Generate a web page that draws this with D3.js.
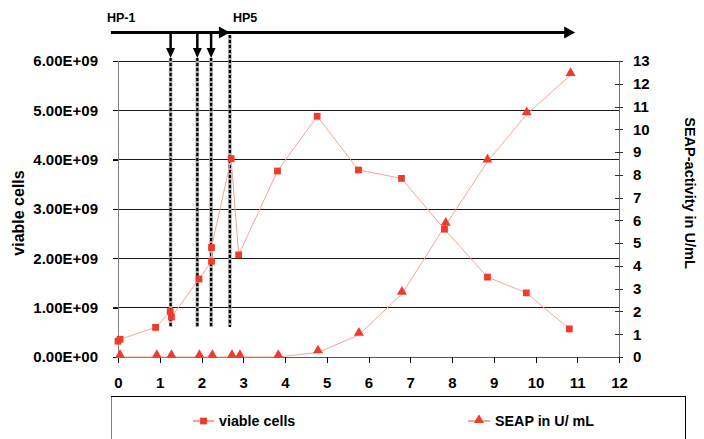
<!DOCTYPE html>
<html><head><meta charset="utf-8">
<script src="https://cdn.jsdelivr.net/npm/d3@7"></script>
<style>
body{margin:0;background:#fff;}
svg{display:block;}
</style></head>
<body><svg id="c" width="704" height="439"></svg>
<script>
// ---- data ----
const cellsX = [0, 0.05, 0.9, 1.25, 1.28, 1.94, 2.24, 2.24, 2.71, 2.89, 3.82, 4.77, 5.76, 6.79, 7.82, 8.85, 9.78, 10.81];
const cellsY = [0.32e9, 0.36e9, 0.60e9, 0.92e9, 0.81e9, 1.58e9, 1.94e9, 2.22e9, 4.02e9, 2.07e9, 3.77e9, 4.88e9, 3.79e9, 3.62e9, 2.59e9, 1.62e9, 1.30e9, 0.57e9];
const seapX = [0.05, 0.93, 1.28, 1.95, 2.26, 2.73, 2.92, 3.84, 4.79, 5.77, 6.80, 7.85, 8.85, 9.79, 10.84];
const seapY = [0, 0, 0, 0, 0, 0, 0, 0, 0.2, 0.97, 2.77, 5.80, 8.58, 10.66, 12.38];
const xTicks = [0,1,2,3,4,5,6,7,8,9,10,11,12];
const leftTicks = [0,1e9,2e9,3e9,4e9,5e9,6e9];
const leftTickLabels = ["0.00E+00","1.00E+09","2.00E+09","3.00E+09","4.00E+09","5.00E+09","6.00E+09"];
const rightTicks = [0,1,2,3,4,5,6,7,8,9,10,11,12,13];
const harvestX = [1.26, 1.90, 2.23];   // downward arrows
const hp5X = 2.68;                     // HP5 start
const timelineStart = -0.17, timelineEnd = 10.95;
const labels = {left:"viable cells", right:"SEAP-activity in U/mL", hp1:"HP-1", hp5:"HP5",
  leg1:"viable cells", leg2:"SEAP in U/ mL"};

const red = "#ee3b2b", lineCol = "#f6a496";
const L = 118, R = 619, T = 61, B = 357;
const FONT = "'Liberation Sans', Arial, sans-serif";

const svg = d3.select("#c").style("font-family",FONT).style("font-weight","bold");
const x = d3.scaleLinear().domain([0,12]).range([L,R]);
const yL = d3.scaleLinear().domain([0,6e9]).range([B,T]);
const yR = d3.scaleLinear().domain([0,13]).range([B,T]);

function txt(sel, size){ return sel.style("font-size",size+"px").style("font-weight","bold")
  .style("font-family",FONT).attr("fill","#000"); }

// gridlines
svg.append("g").selectAll("line").data(leftTicks.slice(1)).join("line")
  .attr("x1",L-5).attr("x2",R).attr("y1",d=>yL(d)).attr("y2",d=>yL(d))
  .attr("stroke","#1a1a1a").attr("stroke-width",1).attr("shape-rendering","crispEdges");

// left axis
const gl = svg.append("g").attr("transform",`translate(${L},0)`)
  .call(d3.axisLeft(yL).tickValues(leftTicks).tickSize(5).tickPadding(15)
    .tickFormat((d,i)=>leftTickLabels[i]));
gl.select(".domain").attr("stroke","#808080").attr("shape-rendering","crispEdges");
gl.selectAll(".tick line").attr("stroke","#000").attr("shape-rendering","crispEdges");
txt(gl.selectAll("text"),15);

// right axis
const gr = svg.append("g").attr("transform",`translate(${R},0)`)
  .call(d3.axisRight(yR).tickValues(rightTicks).tickSize(4).tickPadding(10));
gr.select(".domain").attr("stroke","#9b5a5a").attr("shape-rendering","crispEdges");
gr.selectAll(".tick line").attr("x1",-4).attr("stroke","#333").attr("shape-rendering","crispEdges");
txt(gr.selectAll("text"),15);

// bottom axis
const gb = svg.append("g").attr("transform",`translate(0,${B})`)
  .call(d3.axisBottom(x).tickValues(xTicks).tickSize(6).tickPadding(14));
gb.select(".domain").attr("stroke","#555").attr("shape-rendering","crispEdges");
gb.selectAll(".tick line").attr("stroke","#000").attr("shape-rendering","crispEdges");
txt(gb.selectAll("text"),15);

// axis titles
txt(svg.append("text").attr("transform",`translate(18,213) rotate(-90)`)
  .attr("text-anchor","middle").attr("dy","0.35em"),16).text(labels.left);
txt(svg.append("text").attr("transform",`translate(690,193) rotate(90)`)
  .attr("text-anchor","middle").attr("dy","0.35em"),14.5).text(labels.right);

// timeline arrow
const yTL = 32.5;
svg.append("line").attr("x1",x(timelineStart)).attr("x2",x(timelineEnd)-6)
  .attr("y1",yTL).attr("y2",yTL).attr("stroke","#000").attr("stroke-width",3);
svg.append("path").attr("d",`M${x(timelineEnd)-11},${yTL-6}L${x(timelineEnd)},${yTL}L${x(timelineEnd)-11},${yTL+6}Z`).attr("fill","#000");
svg.append("path").attr("d",`M${x(hp5X)-11},${yTL-6}L${x(hp5X)},${yTL}L${x(hp5X)-11},${yTL+6}Z`).attr("fill","#000");
txt(svg.append("text").attr("x",x(timelineStart)-4).attr("y",22),12.5).text(labels.hp1);
txt(svg.append("text").attr("x",x(hp5X)+3).attr("y",22),12.5).text(labels.hp5);

// dashed harvest lines
const dashed = harvestX.map(v=>({v, top:58})).concat([{v:hp5X, top:35}]);
svg.append("g").selectAll("line").data(dashed).join("line")
  .attr("x1",d=>x(d.v)).attr("x2",d=>x(d.v)).attr("y1",d=>d.top).attr("y2",327)
  .attr("stroke","#a8a8a8").attr("stroke-width",3.5);
svg.append("g").selectAll("line").data(dashed).join("line")
  .attr("x1",d=>x(d.v)).attr("x2",d=>x(d.v)).attr("y1",d=>d.top).attr("y2",327)
  .attr("stroke","#000").attr("stroke-width",2.2).attr("stroke-dasharray","3,2");
// down arrows
svg.append("g").selectAll("line").data(harvestX).join("line")
  .attr("x1",d=>x(d)).attr("x2",d=>x(d)).attr("y1",yTL).attr("y2",50)
  .attr("stroke","#000").attr("stroke-width",2.5);
svg.append("g").selectAll("path").data(harvestX).join("path")
  .attr("d",d=>`M${x(d)-4.5},48L${x(d)+4.5},48L${x(d)},58Z`).attr("fill","#000");

// series lines
const cells = cellsX.map((v,i)=>[v,cellsY[i]]);
const seap = seapX.map((v,i)=>[v,seapY[i]]);
svg.append("path").datum(cells).attr("fill","none").attr("stroke",lineCol).attr("stroke-width",1)
  .attr("d",d3.line().x(d=>x(d[0])).y(d=>yL(d[1])));
svg.append("path").datum(seap).attr("fill","none").attr("stroke",lineCol).attr("stroke-width",1)
  .attr("d",d3.line().x(d=>x(d[0])).y(d=>yR(d[1])));

const sq = d3.symbol().type(d3.symbolSquare).size(46);
const tri = d3.symbol().type(d3.symbolTriangle).size(44);
svg.append("g").selectAll("path").data(seap).join("path")
  .attr("transform",d=>`translate(${x(d[0])},${yR(d[1])-2})`).attr("d",tri).attr("fill",red);
svg.append("g").selectAll("path").data(cells).join("path")
  .attr("transform",d=>`translate(${x(d[0])},${yL(d[1])})`).attr("d",sq).attr("fill",red);

// legend
svg.append("rect").attr("x",111.5).attr("y",396.5).attr("width",574).attr("height",60)
  .attr("fill","#fff").attr("stroke","#000").attr("stroke-width",1);
svg.append("line").attr("x1",111.5).attr("x2",111.5).attr("y1",397).attr("y2",439).attr("stroke","#808080");
const ly = 421;
svg.append("line").attr("x1",193).attr("x2",214).attr("y1",ly).attr("y2",ly).attr("stroke",lineCol).attr("stroke-width",2);
svg.append("path").attr("transform",`translate(203.5,${ly})`).attr("d",sq).attr("fill",red);
txt(svg.append("text").attr("x",219).attr("y",ly).attr("dy","0.35em"),14.3).text(labels.leg1);
svg.append("line").attr("x1",468).attr("x2",490).attr("y1",ly).attr("y2",ly).attr("stroke",lineCol).attr("stroke-width",2);
svg.append("path").attr("transform",`translate(479,${ly-1})`).attr("d",tri).attr("fill",red);
txt(svg.append("text").attr("x",495).attr("y",ly).attr("dy","0.35em"),14.3).text(labels.leg2);
</script></body></html>
